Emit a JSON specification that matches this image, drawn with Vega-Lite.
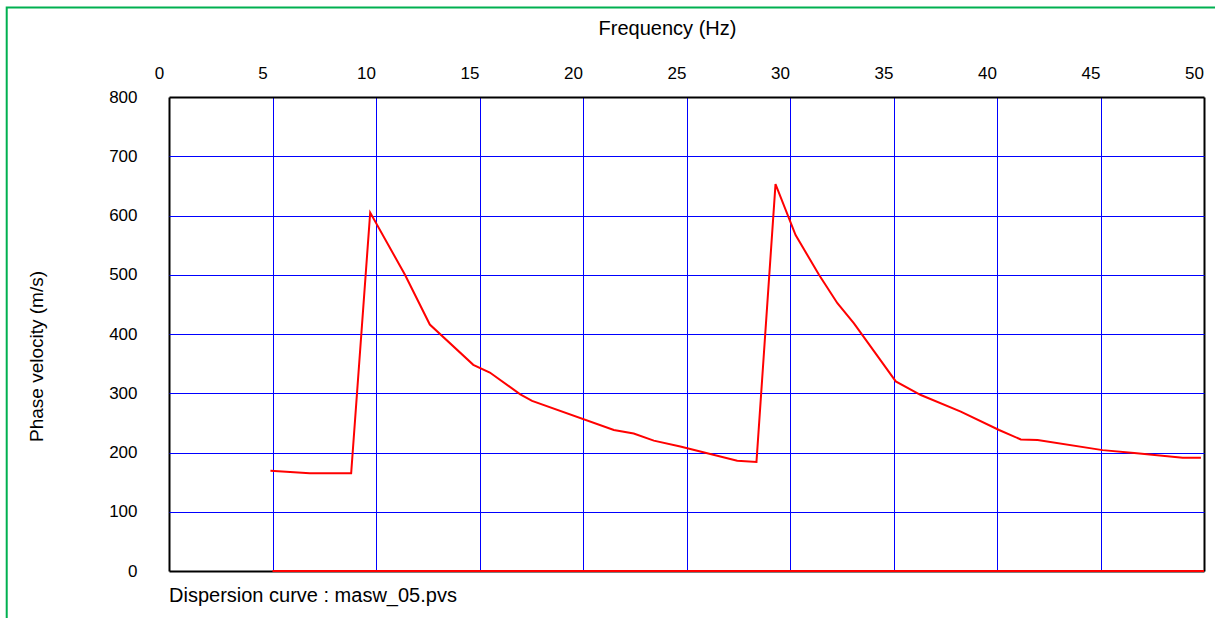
{
  "$schema": "https://vega.github.io/schema/vega-lite/v6.json",
  "width": 1035,
  "height": 474,
  "autosize": {"type": "none"},
  "padding": {"left": 169, "top": 97, "right": 11, "bottom": 47},
  "background": "white",
  "config": {"view": {"stroke": null}, "font": "Liberation Sans"},
  "title": {
    "text": "Dispersion curve : masw_05.pvs",
    "orient": "bottom",
    "anchor": "start",
    "frame": "group",
    "fontSize": 20,
    "fontWeight": "normal",
    "font": "Liberation Sans",
    "color": "black",
    "baseline": "alphabetic",
    "offset": -29
  },
  "datasets": {
    "curve": [
      {"series": "mode", "freq": 4.9, "vel": 169},
      {"series": "mode", "freq": 5.85, "vel": 167},
      {"series": "mode", "freq": 6.8, "vel": 165},
      {"series": "mode", "freq": 8.8, "vel": 165},
      {"series": "mode", "freq": 9.72, "vel": 605},
      {"series": "mode", "freq": 11.4, "vel": 500},
      {"series": "mode", "freq": 12.6, "vel": 416},
      {"series": "mode", "freq": 14.7, "vel": 348},
      {"series": "mode", "freq": 15.5, "vel": 335},
      {"series": "mode", "freq": 16.97, "vel": 298},
      {"series": "mode", "freq": 17.54, "vel": 287},
      {"series": "mode", "freq": 21.49, "vel": 238},
      {"series": "mode", "freq": 22.45, "vel": 232},
      {"series": "mode", "freq": 23.42, "vel": 220},
      {"series": "mode", "freq": 24.7, "vel": 210},
      {"series": "mode", "freq": 27.45, "vel": 186},
      {"series": "mode", "freq": 28.38, "vel": 184},
      {"series": "mode", "freq": 29.3, "vel": 653},
      {"series": "mode", "freq": 30.27, "vel": 567},
      {"series": "mode", "freq": 31.4, "vel": 500},
      {"series": "mode", "freq": 32.29, "vel": 452},
      {"series": "mode", "freq": 33.09, "vel": 418},
      {"series": "mode", "freq": 35.11, "vel": 320},
      {"series": "mode", "freq": 36.32, "vel": 297},
      {"series": "mode", "freq": 38.25, "vel": 269},
      {"series": "mode", "freq": 40.1, "vel": 238},
      {"series": "mode", "freq": 41.15, "vel": 222},
      {"series": "mode", "freq": 41.96, "vel": 221},
      {"series": "mode", "freq": 45.1, "vel": 204},
      {"series": "mode", "freq": 46.63, "vel": 199},
      {"series": "mode", "freq": 48.97, "vel": 191},
      {"series": "mode", "freq": 49.85, "vel": 191},
      {"series": "zero", "freq": 5, "vel": 0},
      {"series": "zero", "freq": 50, "vel": 0}
    ]
  },
  "layer": [
    {
      "data": {"name": "curve"},
      "mark": {"type": "line", "color": "red", "strokeWidth": 2, "clip": false},
      "encoding": {
        "detail": {"field": "series"},
        "x": {
          "field": "freq",
          "type": "quantitative",
          "scale": {"domain": [0, 50], "nice": false, "zero": false},
          "axis": {
            "orient": "top",
            "values": [0, 5, 10, 15, 20, 25, 30, 35, 40, 45, 50],
            "title": "Frequency (Hz)",
            "titleFont": "Liberation Sans",
            "titleFontSize": 20,
            "titleFontWeight": "normal",
            "titleColor": "black",
            "titleX": 498,
            "titleY": -63,
            "titleBaseline": "alphabetic",
            "titleAlign": "center",
            "labelFont": "Liberation Sans",
            "labelFontSize": 17,
            "labelColor": "black",
            "labelPadding": 19,
            "labelBaseline": "alphabetic",
            "labelOffset": -10,
            "labelFlush": false,
            "labelOverlap": false,
            "ticks": false,
            "tickSize": 0,
            "domain": false,
            "grid": true,
            "gridOpacity": 1,
            "gridColor": {"condition": {"test": "datum.value == 0 || datum.value == 50", "value": "black"}, "value": "#0000ff"},
            "gridWidth": {"condition": {"test": "datum.value == 0 || datum.value == 50", "value": 2}, "value": 1}
          }
        },
        "y": {
          "field": "vel",
          "type": "quantitative",
          "scale": {"domain": [0, 800], "nice": false},
          "axis": {
            "orient": "left",
            "values": [0, 100, 200, 300, 400, 500, 600, 700, 800],
            "title": "Phase velocity (m/s)",
            "titleFont": "Liberation Sans",
            "titleFontSize": 19,
            "titleFontWeight": "normal",
            "titleColor": "black",
            "titleAngle": -90,
            "titleX": -127,
            "titleY": 259,
            "titleBaseline": "alphabetic",
            "titleAlign": "center",
            "labelFont": "Liberation Sans",
            "labelFontSize": 17,
            "labelColor": "black",
            "labelPadding": 32,
            "labelBaseline": "middle",
            "labelDy": -2,
            "labelFlush": false,
            "labelOverlap": false,
            "ticks": false,
            "tickSize": 0,
            "domain": false,
            "grid": true,
            "gridOpacity": 1,
            "gridColor": {"condition": {"test": "datum.value == 0 || datum.value == 800", "value": "black"}, "value": "#0000ff"},
            "gridWidth": {"condition": {"test": "datum.value == 0 || datum.value == 800", "value": 2}, "value": 1}
          }
        }
      }
    },
    {
      "data": {"values": [{}]},
      "mark": {"type": "rect", "fill": null, "stroke": "#00b050", "strokeWidth": 2, "clip": false},
      "encoding": {
        "x": {"datum": -7.84, "type": "quantitative"},
        "x2": {"datum": 60},
        "y": {"datum": 951, "type": "quantitative"},
        "y2": {"datum": -100}
      }
    }
  ]
}
